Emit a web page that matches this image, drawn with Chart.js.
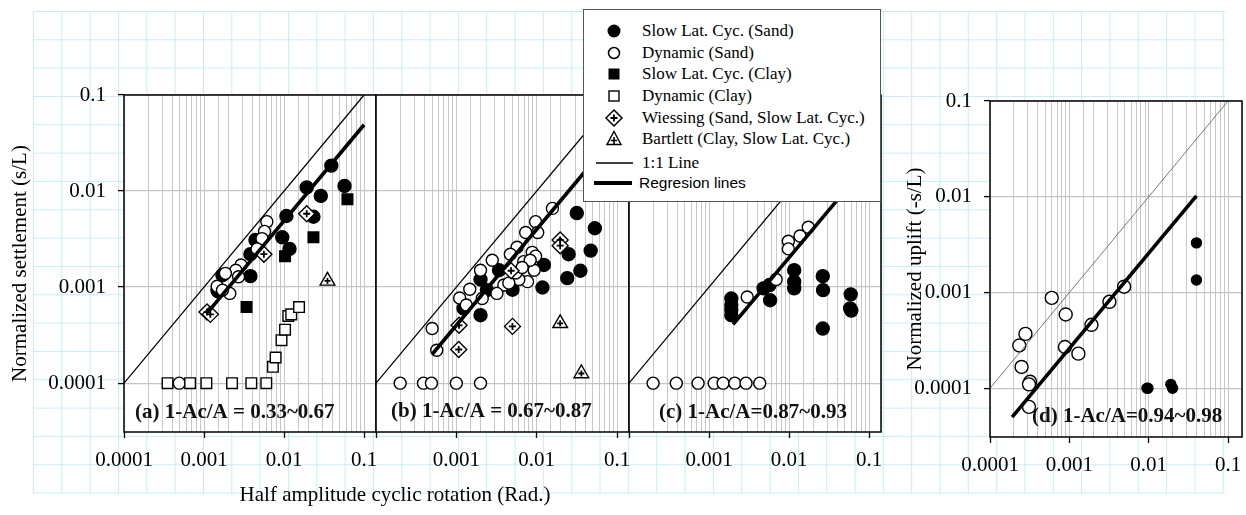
<!DOCTYPE html>
<html>
<head>
<meta charset="utf-8">
<script src="https://cdn.jsdelivr.net/npm/chart.js@4.4.0/dist/chart.umd.min.js"></script>
<style>
  body { margin: 0; width: 1246px; height: 515px; background: #fff; position: relative; overflow: hidden;
         font-family: "Liberation Serif", "Times New Roman", serif; }
  #paper { position: absolute; left: 33px; top: 11px; width: 1192px; height: 483px;
           background-image: linear-gradient(to right, #c6eef4 1px, transparent 1px),
                             linear-gradient(to bottom, #c6eef4 1px, transparent 1px);
           background-size: 28.33px 28.33px; }
  canvas { position: absolute; top: 0; }
  #xtitle { position: absolute; left: 0; width: 790px; top: 482px; text-align: center; font-size: 21px; color: #000; }
  #legend { position: absolute; left: 583px; top: 9px; width: 296px; height: 191px; background: #fff;
            border: 1px solid #555; z-index: 10; }
  .lrow { position: absolute; left: 0; height: 22px; width: 296px; }
  .lrow svg { position: absolute; left: 8px; top: 0; }
  .lrow span { position: absolute; left: 58px; top: 0; line-height: 22px; font-size: 17px; white-space: nowrap; }
  .lrow span.sans { font-family: "Liberation Sans", Arial, sans-serif; font-size: 15.5px; left: 55px; }
</style>
</head>
<body>
<div id="paper"></div>
<canvas id="pa" width="388" height="515" style="left:0px"></canvas>
<canvas id="pb" width="277" height="515" style="left:364px"></canvas>
<canvas id="pc" width="276" height="515" style="left:617px"></canvas>
<canvas id="pd" width="374" height="515" style="left:880px"></canvas>
<div id="xtitle">Half amplitude cyclic rotation (Rad.)</div>
<div id="legend"></div>
<script>
// ---- data: [rotation, s/L] ----
const oneToOne = [[0.0001, 0.0001], [0.1, 0.1]];

// (a) 1-Ac/A = 0.33~0.67
const aSlowSand = [[0.039, 0.0184], [0.057, 0.0113], [0.0192, 0.0109], [0.0288, 0.0089], [0.0233, 0.0054],
  [0.0107, 0.0055], [0.0095, 0.0033], [0.0117, 0.0025], [0.0044, 0.0031], [0.0038, 0.0022],
  [0.0038, 0.0013], [0.0017, 0.00133], [0.00147, 0.00093], [0.0015, 0.0009]];
const aDynSand = [[0.0061, 0.0048], [0.0057, 0.0038], [0.0053, 0.0032], [0.0046, 0.0025], [0.0029, 0.0017],
  [0.0025, 0.0015], [0.00185, 0.00139], [0.0027, 0.00128], [0.0021, 0.00086], [0.00146, 0.00102],
  [0.0017, 0.00093], [0.00049, 0.0001]];
const aSlowClay = [[0.062, 0.0082], [0.0233, 0.0033], [0.0103, 0.0021], [0.0034, 0.00062]];
const aDynClay = [[0.00035, 0.0001], [0.00067, 0.0001], [0.00107, 0.0001], [0.00224, 0.0001], [0.0039, 0.0001],
  [0.006, 0.0001], [0.00726, 0.000148], [0.00785, 0.000185], [0.0093, 0.00028], [0.0103, 0.00036],
  [0.0113, 0.0005], [0.0123, 0.00052], [0.0154, 0.00062]];
const aWiessing = [[0.0192, 0.0058], [0.0056, 0.0022], [0.00109, 0.00055], [0.0012, 0.00052]];
const aBartlett = [[0.0349, 0.00116]];
const aReg = [[0.0011, 0.00054], [0.1, 0.049]];

// (b) 1-Ac/A = 0.67~0.87
const bSlowSand = [[0.0316, 0.0059], [0.053, 0.0041], [0.047, 0.0024], [0.025, 0.0022], [0.035, 0.00148],
  [0.024, 0.00124], [0.0123, 0.0017], [0.0118, 0.00099], [0.005, 0.00094], [0.0034, 0.0015],
  [0.002, 0.0012], [0.0024, 0.00093], [0.002, 0.00051], [0.00123, 0.0006]];
const bDynSand = [[0.0157, 0.0066], [0.0097, 0.0048], [0.0103, 0.0037], [0.0073, 0.0037], [0.0057, 0.0026],
  [0.0047, 0.0022], [0.0088, 0.0023], [0.0097, 0.0021], [0.0069, 0.00184], [0.0093, 0.0015],
  [0.0077, 0.00114], [0.006, 0.0012], [0.0039, 0.00105], [0.0032, 0.00086], [0.0028, 0.0019],
  [0.002, 0.0015], [0.0021, 0.00076], [0.00147, 0.00095], [0.0011, 0.00077], [0.00133, 0.00065],
  [0.0005, 0.00037], [0.00057, 0.00022], [0.0083, 0.0019], [0.0055, 0.0014], [0.0045, 0.0011],
  [0.0066, 0.0016], [0.0002, 0.0001], [0.00039, 0.0001], [0.00049, 0.0001], [0.001, 0.0001], [0.002, 0.0001]];
const bWiessing = [[0.0196, 0.0031], [0.0196, 0.0027], [0.0048, 0.00148], [0.00108, 0.0004],
  [0.005, 0.00039], [0.00107, 0.000224]];
const bBartlett = [[0.0196, 0.00042], [0.036, 0.000126]];
const bReg = [[0.0005, 0.0002], [0.1, 0.04]];

// (c) 1-Ac/A = 0.87~0.93
const cSlowSand = [[0.0019, 0.00076], [0.0019, 0.00065], [0.0019, 0.00058], [0.0019, 0.00051],
  [0.0048, 0.00097], [0.0057, 0.00105], [0.0058, 0.00073], [0.0116, 0.0015], [0.0116, 0.00114],
  [0.0116, 0.00097], [0.0264, 0.0013], [0.0266, 0.00093], [0.0264, 0.00037], [0.059, 0.00084],
  [0.058, 0.0006], [0.06, 0.00057]];
const cDynSand = [[0.0174, 0.0042], [0.0137, 0.0034], [0.0098, 0.003], [0.0098, 0.0025], [0.0069, 0.0012],
  [0.003, 0.00079], [0.0002, 0.0001], [0.00039, 0.0001], [0.00073, 0.0001], [0.00116, 0.0001],
  [0.0015, 0.0001], [0.0021, 0.0001], [0.0029, 0.0001], [0.0043, 0.0001]];
const cReg = [[0.002, 0.00041], [0.1, 0.02]];

// (d) 1-Ac/A = 0.94~0.98 (uplift)
const dDynSand = [[0.0049, 0.00115], [0.0032, 0.0008], [0.0019, 0.00046], [0.0013, 0.00023], [0.00088, 0.00027],
  [0.0009, 0.00059], [0.0006, 0.00088], [0.00028, 0.00037], [0.000234, 0.00028], [0.00025, 0.000167],
  [0.00032, 0.000117], [0.00031, 0.00011], [0.00031, 0.000064]];
const dSlowSand = [[0.04, 0.0033], [0.04, 0.00135], [0.0095, 0.0001], [0.0098, 0.0001], [0.019, 0.00011], [0.02, 0.0001]];
const dReg = [[0.00019, 0.00005], [0.04, 0.0102]];

const legendLabels = ["Slow Lat. Cyc. (Sand)", "Dynamic (Sand)", "Slow Lat. Cyc. (Clay)", "Dynamic (Clay)",
  "Wiessing (Sand, Slow Lat. Cyc.)", "Bartlett (Clay, Slow Lat. Cyc.)", "1:1 Line", "Regresion lines"];

// ---- styles ----
const FONT = "'Liberation Serif', 'Times New Roman', serif";
Chart.defaults.font.family = FONT;
Chart.defaults.color = '#000';

const STYLE = {
  slowSand: {pointStyle: 'circle', fill: '#000', r: 6.5},
  dynSand: {pointStyle: 'circle', fill: '#fff', r: 6},
  slowClay: {pointStyle: 'rect', fill: '#000', r: 7.5},
  dynClay: {pointStyle: 'rect', fill: '#fff', r: 7.5},
  wiessing: {pointStyle: 'rectRot', fill: '#fff', r: 8, cross: 3.5},
  bartlett: {pointStyle: 'triangle', fill: '#fff', r: 8.5, cross: 3}
};

const pts = arr => arr.map(([x, y]) => ({x, y}));
const isDecade = v => Math.abs(Math.log10(v) - Math.round(Math.log10(v))) < 1e-6;
const decadeLabel = v => String(10 ** Math.round(Math.log10(v)));

function markSets(kind, arr, r) {
  const s = STYLE[kind];
  const rad = r || s.r;
  const out = [{
    data: pts(arr), pointStyle: s.pointStyle, pointRadius: rad, pointHoverRadius: rad,
    backgroundColor: s.fill, pointBackgroundColor: s.fill, borderColor: '#000', pointBorderColor: '#000',
    pointBorderWidth: 1.4, showLine: false, order: 2
  }];
  if (s.cross) {
    out.push({
      data: pts(arr), pointStyle: 'cross', pointRadius: s.cross, pointHoverRadius: s.cross,
      borderColor: '#000', pointBorderColor: '#000', pointBorderWidth: 1.8, showLine: false, order: 1
    });
  }
  return out;
}

function lineSet(arr, w, color) {
  return {data: pts(arr), showLine: true, borderColor: color, borderWidth: w, pointRadius: 0,
          pointHoverRadius: 0, fill: false, order: 0};
}

// white plot area, frame and the panel caption
const panelDeco = {
  id: 'panelDeco',
  beforeDraw(chart) {
    const {ctx, chartArea: a} = chart;
    ctx.save();
    ctx.fillStyle = '#fff';
    ctx.fillRect(a.left, a.top, a.right - a.left, a.bottom - a.top);
    ctx.restore();
  },
  afterDraw(chart, args, o) {
    const {ctx, chartArea: a} = chart;
    ctx.save();
    ctx.strokeStyle = '#000';
    ctx.lineWidth = 1.5;
    ctx.strokeRect(a.left, a.top, a.right - a.left, a.bottom - a.top);
    if (o.text) {
      ctx.font = 'bold 21px ' + FONT;
      ctx.fillStyle = '#111';
      ctx.textBaseline = 'middle';
      ctx.fillText(o.text, a.left + o.dx, a.bottom + o.dy);
    }
    ctx.restore();
  }
};

function makePanel(id, p) {
  const datasets = [lineSet(oneToOne, p.unitW, p.unitColor), lineSet(p.reg, 3.6, '#000')];
  p.series.forEach(([kind, arr, r]) => datasets.push(...markSets(kind, arr, r)));

  const yScale = {
    type: 'logarithmic', position: 'left', min: p.ymin, max: 0.1,
    border: {display: false},
    grid: {
      color: c => isDecade(c.tick.value) ? '#c4c4c4' : 'rgba(0,0,0,0)',
      lineWidth: 1.2, drawTicks: p.yLabels, tickLength: 6, tickWidth: 1.3,
      tickColor: c => isDecade(c.tick.value) ? '#000' : 'rgba(0,0,0,0)'
    },
    ticks: {
      display: p.yLabels, autoSkip: false, padding: 12, color: '#000', font: {size: 21},
      callback: v => isDecade(v) ? decadeLabel(v) : ''
    },
    afterFit: s => { s.width = p.yW; }
  };
  if (p.yTitle) {
    yScale.title = {display: true, text: p.yTitle, color: '#000', font: {size: 21},
                    padding: {top: p.yTitlePad, bottom: 0}};
  }

  new Chart(document.getElementById(id), {
    type: 'scatter',
    data: {datasets},
    plugins: [panelDeco],
    options: {
      responsive: false,
      animation: false,
      events: [],
      layout: {padding: {top: p.top, left: p.padL, right: 12, bottom: 0}},
      plugins: {legend: {display: false}, tooltip: {enabled: false}, panelDeco: p.caption},
      scales: {
        x: {
          type: 'logarithmic', min: 0.0001, max: p.xmax,
          border: {display: false},
          grid: {
            color: '#c8c8c8', lineWidth: 1, drawTicks: true, tickLength: 6, tickWidth: 1.3,
            tickColor: c => isDecade(c.tick.value) ? '#000' : 'rgba(0,0,0,0)'
          },
          ticks: {
            autoSkip: false, maxRotation: 0, minRotation: 0, padding: 10, color: '#000', font: {size: 21},
            callback: v => (isDecade(v) && v > p.xFirst) ? decadeLabel(v) : ''
          },
          afterFit: s => { s.height = p.xH; }
        },
        y: yScale
      }
    }
  });
}

makePanel('pa', {
  series: [['slowClay', aSlowClay], ['dynClay', aDynClay], ['bartlett', aBartlett], ['wiessing', aWiessing],
           ['dynSand', aDynSand], ['slowSand', aSlowSand]],
  reg: aReg, unitW: 1.3, unitColor: '#000', top: 95, padL: 0, xmax: 0.141, ymin: 3.1e-5, xH: 83,
  yW: 124, yLabels: true, yTitle: 'Normalized settlement (s/L)', yTitlePad: 8, xFirst: 5e-5,
  caption: {text: '(a) 1-Ac/A = 0.33~0.67', dx: 11, dy: -19}
});
makePanel('pb', {
  series: [['bartlett', bBartlett], ['wiessing', bWiessing], ['dynSand', bDynSand], ['slowSand', bSlowSand]],
  reg: bReg, unitW: 1.3, unitColor: '#000', top: 95, padL: 12, xmax: 0.141, ymin: 3.1e-5, xH: 83,
  yW: 0, yLabels: false, xFirst: 2e-4,
  caption: {text: '(b) 1-Ac/A = 0.67~0.87', dx: 15, dy: -20}
});
makePanel('pc', {
  series: [['dynSand', cDynSand], ['slowSand', cSlowSand]],
  reg: cReg, unitW: 1.3, unitColor: '#000', top: 95, padL: 12, xmax: 0.141, ymin: 3.1e-5, xH: 83,
  yW: 0, yLabels: false, xFirst: 2e-4,
  caption: {text: '(c) 1-Ac/A=0.87~0.93', dx: 30, dy: -19}
});
makePanel('pd', {
  series: [['slowSand', dSlowSand, 5], ['dynSand', dDynSand, 6.5]],
  reg: dReg, unitW: 0.8, unitColor: '#555', top: 101, padL: 0, xmax: 0.15, ymin: 3.1e-5, xH: 78,
  yW: 110, yLabels: true, yTitle: 'Normalized uplift (-s/L)', yTitlePad: 23, xFirst: 5e-5,
  caption: {text: '(d) 1-Ac/A=0.94~0.98', dx: 42, dy: -20}
});

// ---- legend (html) ----
const legendRowsY = [21, 43, 64, 86, 108, 129, 153, 173];
const legendIcons = [
  '<circle cx="22" cy="11" r="6.5" fill="#000"/>',
  '<circle cx="22" cy="11" r="5.5" fill="#fff" stroke="#000" stroke-width="1.5"/>',
  '<rect x="16.5" y="5.5" width="11" height="11" fill="#000"/>',
  '<rect x="17" y="6" width="10" height="10" fill="#fff" stroke="#000" stroke-width="1.4"/>',
  '<path d="M22 3 L30 11 L22 19 L14 11 Z" fill="#fff" stroke="#000" stroke-width="1.5"/>' +
    '<path d="M22 7.5 V14.5 M18.5 11 H25.5" stroke="#000" stroke-width="1.8"/>',
  '<path d="M22 3.5 L29 16.5 L15 16.5 Z" fill="#fff" stroke="#000" stroke-width="1.4"/>' +
    '<path d="M22 9 V16 M18.8 12.5 H25.2" stroke="#000" stroke-width="1.6"/>',
  '<line x1="4" y1="11" x2="41" y2="11" stroke="#000" stroke-width="1.3"/>',
  '<line x1="2" y1="11" x2="40" y2="11" stroke="#000" stroke-width="4"/>'
];
const legend = document.getElementById('legend');
legendLabels.forEach((txt, i) => {
  const row = document.createElement('div');
  row.className = 'lrow';
  row.style.top = (legendRowsY[i] - 11) + 'px';
  row.innerHTML = '<svg width="46" height="22">' + legendIcons[i] + '</svg>' +
    '<span class="' + (i === 7 ? 'sans' : '') + '">' + txt + '</span>';
  legend.appendChild(row);
});
</script>
</body>
</html>
